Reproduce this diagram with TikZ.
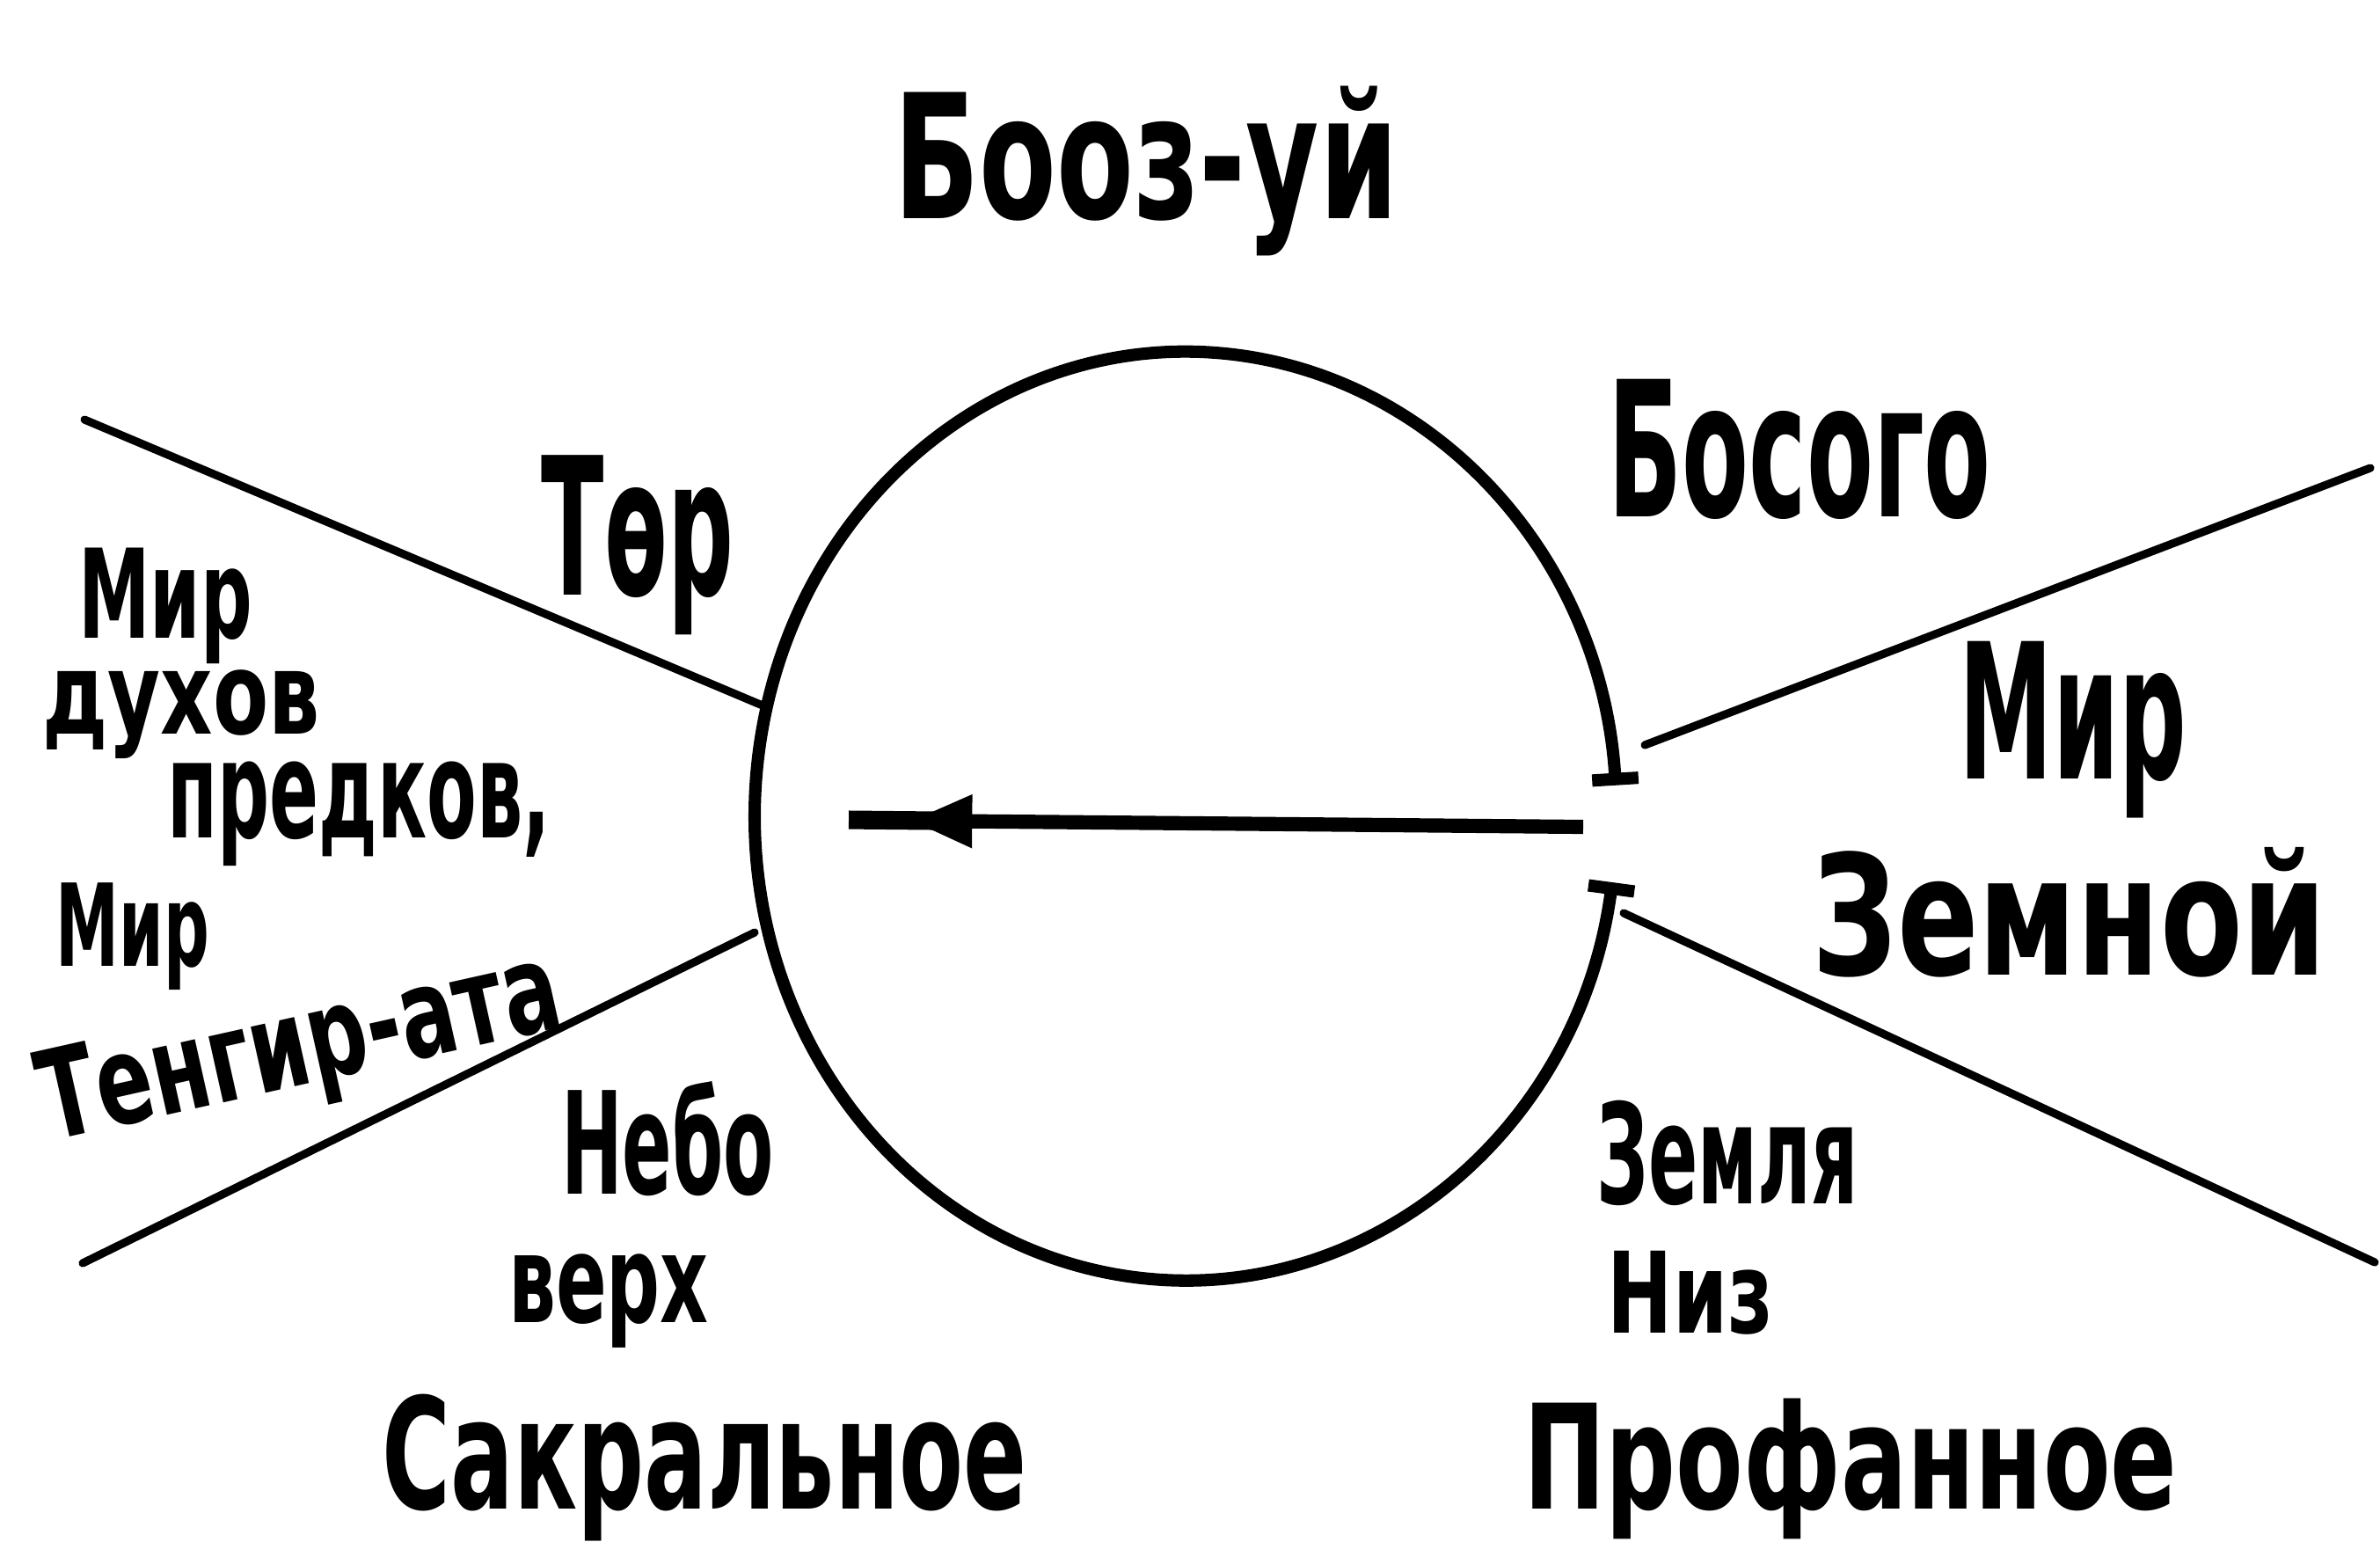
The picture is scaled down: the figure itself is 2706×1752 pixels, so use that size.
\documentclass[tikz,border=0pt]{standalone}
\usepackage{fontspec}
\setmainfont{DejaVu Sans}
\usetikzlibrary{arrows.meta}

\newcommand\hw[2]{\fontspec{DejaVu Sans}[FakeStretch=#1]\bfseries\fontsize{#2}{#2}\selectfont}

\tikzset{
  lbl/.style={inner sep=0pt, anchor=base},
  ray/.style={line width=2.6pt, line cap=round},
  rim/.style={line width=4pt, line cap=round},
  shaft/.style={line width=4.6pt},
}

\begin{document}
\begin{tikzpicture}[x=0.1mm, y=-0.1mm]
  \useasboundingbox (0,0) rectangle (2706,1752);

  \coordinate (g1) at (1833,1003);
  \draw[rim, {Bar[width=15pt]}-{Bar[width=15pt]}] (g1)
    arc[start angle=8.2, end angle=356.2, x radius=490, y radius=528];

  \coordinate (ul) at (96,477);
  \coordinate (ulc) at (867,802);
  \coordinate (ll) at (94,1436);
  \coordinate (llc) at (858,1060);
  \coordinate (ur) at (2695,532);
  \coordinate (urc) at (1870,847);
  \coordinate (lr) at (2700,1435);
  \coordinate (lrc) at (1846,1038);
  \draw[ray] (ul) -- (ulc);
  \draw[ray] (ll) -- (llc);
  \draw[ray] (urc) -- (ur);
  \draw[ray] (lrc) -- (lr);

  \coordinate (a1) at (1800,940);
  \coordinate (a2) at (1035,933);
  \coordinate (a3) at (965,932);
  \draw[shaft, -{Triangle[length=20pt,width=16pt]}] (a1) -- (a2);
  \draw[line width=6pt] (1065,933) -- (a3);

  \node[lbl, font=\hw{0.65}{56}] (booz) at (1303,248) {Бооз-уй};
  \node[lbl, font=\hw{0.48}{62}] (tor) at (725,676) {Төр};
  \node[lbl, font=\hw{0.516}{61}] (bosogo) at (2046,587) {Босого};
  \node[lbl, font=\hw{0.50}{61}] (mir) at (2357,885) {Мир};
  \node[lbl, font=\hw{0.72}{54}] (zemnoi) at (2353,1108) {Земной};

  \node[lbl, font=\hw{0.583}{40}] (mir1) at (188,725) {Мир};
  \node[lbl, font=\hw{0.708}{37}] (duhov) at (206,834) {духов};
  \node[lbl, font=\hw{0.534}{44}] (predkov) at (408,952) {предков,};
  \node[lbl, font=\hw{0.556}{37}] (mir2) at (151,1098) {Мир};
  \node[lbl, font=\hw{0.676}{40}, rotate=12.6] (tengir) at (350,1232) {Тенгир-ата};

  \node[lbl, font=\hw{0.516}{46}] (nebo) at (759,1357) {Небо};
  \node[lbl, font=\hw{0.614}{39.5}] (verh) at (692,1503) {верх};
  \node[lbl, font=\hw{0.525}{45}] (zemlya) at (1964,1368) {Земля};
  \node[lbl, font=\hw{0.694}{36.4}] (niz) at (1922,1515) {Низ};

  \node[lbl, font=\hw{0.605}{50}] (sakr) at (801,1715) {Сакральное};
  \node[lbl, font=\hw{0.676}{47}] (prof) at (2104,1715) {Профанное};
\end{tikzpicture}
\end{document}
